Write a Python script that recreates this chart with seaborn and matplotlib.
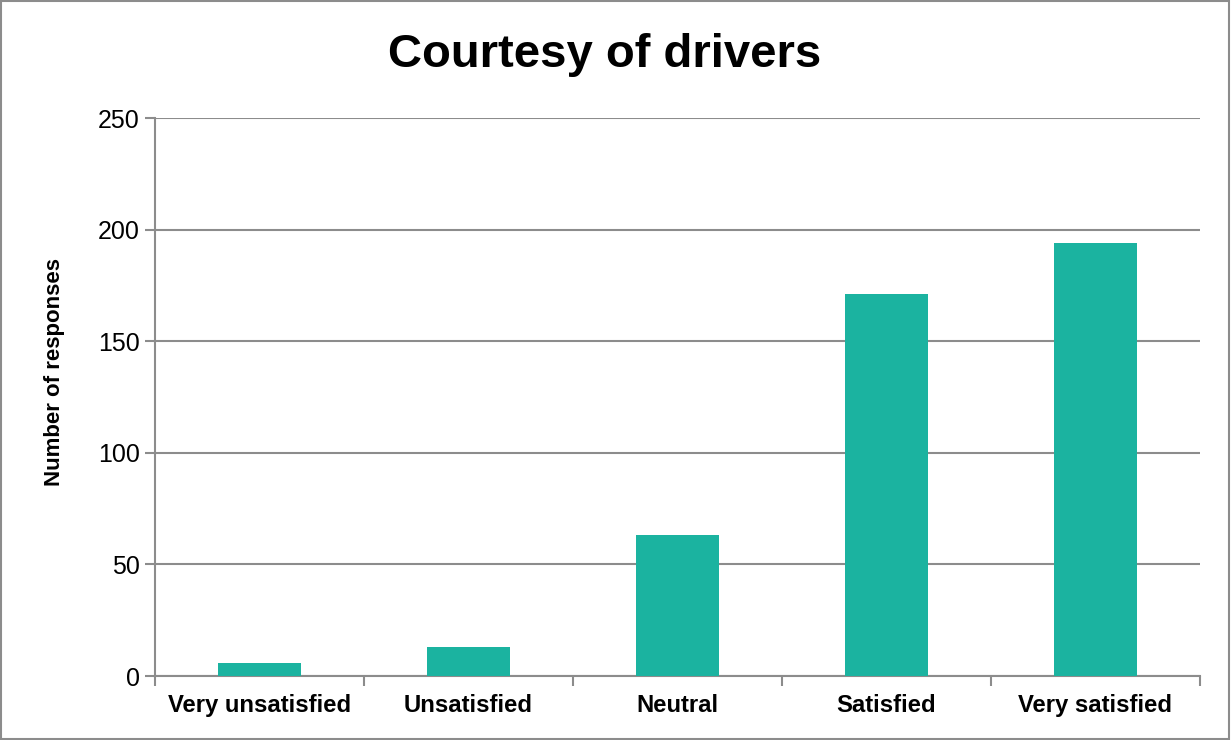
import matplotlib
matplotlib.use("Agg")
import matplotlib.pyplot as plt
import seaborn as sns
import pandas as pd
from matplotlib.patches import Rectangle

categories = ["Very unsatisfied", "Unsatisfied", "Neutral", "Satisfied", "Very satisfied"]
responses = [6, 13, 63, 171, 194]
y_ticks = [0, 50, 100, 150, 200, 250]

sns.set_theme(style="white")
plt.rcParams['font.family'] = ['Liberation Sans', 'DejaVu Sans']
plt.rcParams['text.color'] = 'black'
plt.rcParams['axes.labelcolor'] = 'black'
plt.rcParams['xtick.color'] = 'black'
plt.rcParams['ytick.color'] = 'black'

df = pd.DataFrame({"category": categories, "responses": responses})

fig = plt.figure(figsize=(12.31, 7.40), dpi=100)
ax = fig.add_axes([155/1231, 64/740, 1045/1231, 558/740])

sns.barplot(data=df, x="category", y="responses", color="#1BB3A0", saturation=1,
            width=0.4, linewidth=0, ax=ax, zorder=3)

ax.set_ylim(0, 250)
ax.set_xlim(-0.5, 4.5)
ax.set_yticks(y_ticks)
ax.set_yticklabels([str(t) for t in y_ticks], fontsize=18, color="black")
ax.yaxis.grid(True, color="#8c8c8c", linewidth=1.5, zorder=0)
ax.set_axisbelow(True)

# category labels at minor ticks, tick marks at category boundaries
ax.set_xticks([i - 0.5 for i in range(len(categories) + 1)])
ax.set_xticklabels([])
ax.set_xticks(list(range(len(categories))), minor=True)
ax.set_xticklabels(categories, minor=True, fontsize=17.2, fontweight="bold", color="black")
ax.tick_params(axis="x", which="major", length=7, width=1.5, color="#8c8c8c", direction="out", bottom=True)
ax.tick_params(axis="x", which="minor", length=0, pad=13)
ax.tick_params(axis="y", length=7, width=1.5, color="#8c8c8c", direction="out", left=True, pad=4)

for s in ["top", "right"]:
    ax.spines[s].set_visible(False)
for s in ["left", "bottom"]:
    ax.spines[s].set_color("#8c8c8c")
    ax.spines[s].set_linewidth(1.5)

ax.set_xlabel("")
ax.set_ylabel("Number of responses", fontsize=16, fontweight="bold", color="black")
ax.yaxis.set_label_coords((65 - 155) / 1045, (676 - 372) / 558)

fig.text(605/1231, 1 - 55/740, "Courtesy of drivers", fontsize=34, fontweight="bold",
         ha="center", va="center", color="black")

fig.patches.append(Rectangle((0.001, 0.001), 0.997, 0.997, transform=fig.transFigure,
                             fill=False, edgecolor="#8c8c8c", linewidth=1.5))

fig.savefig("out.png", dpi=100)
